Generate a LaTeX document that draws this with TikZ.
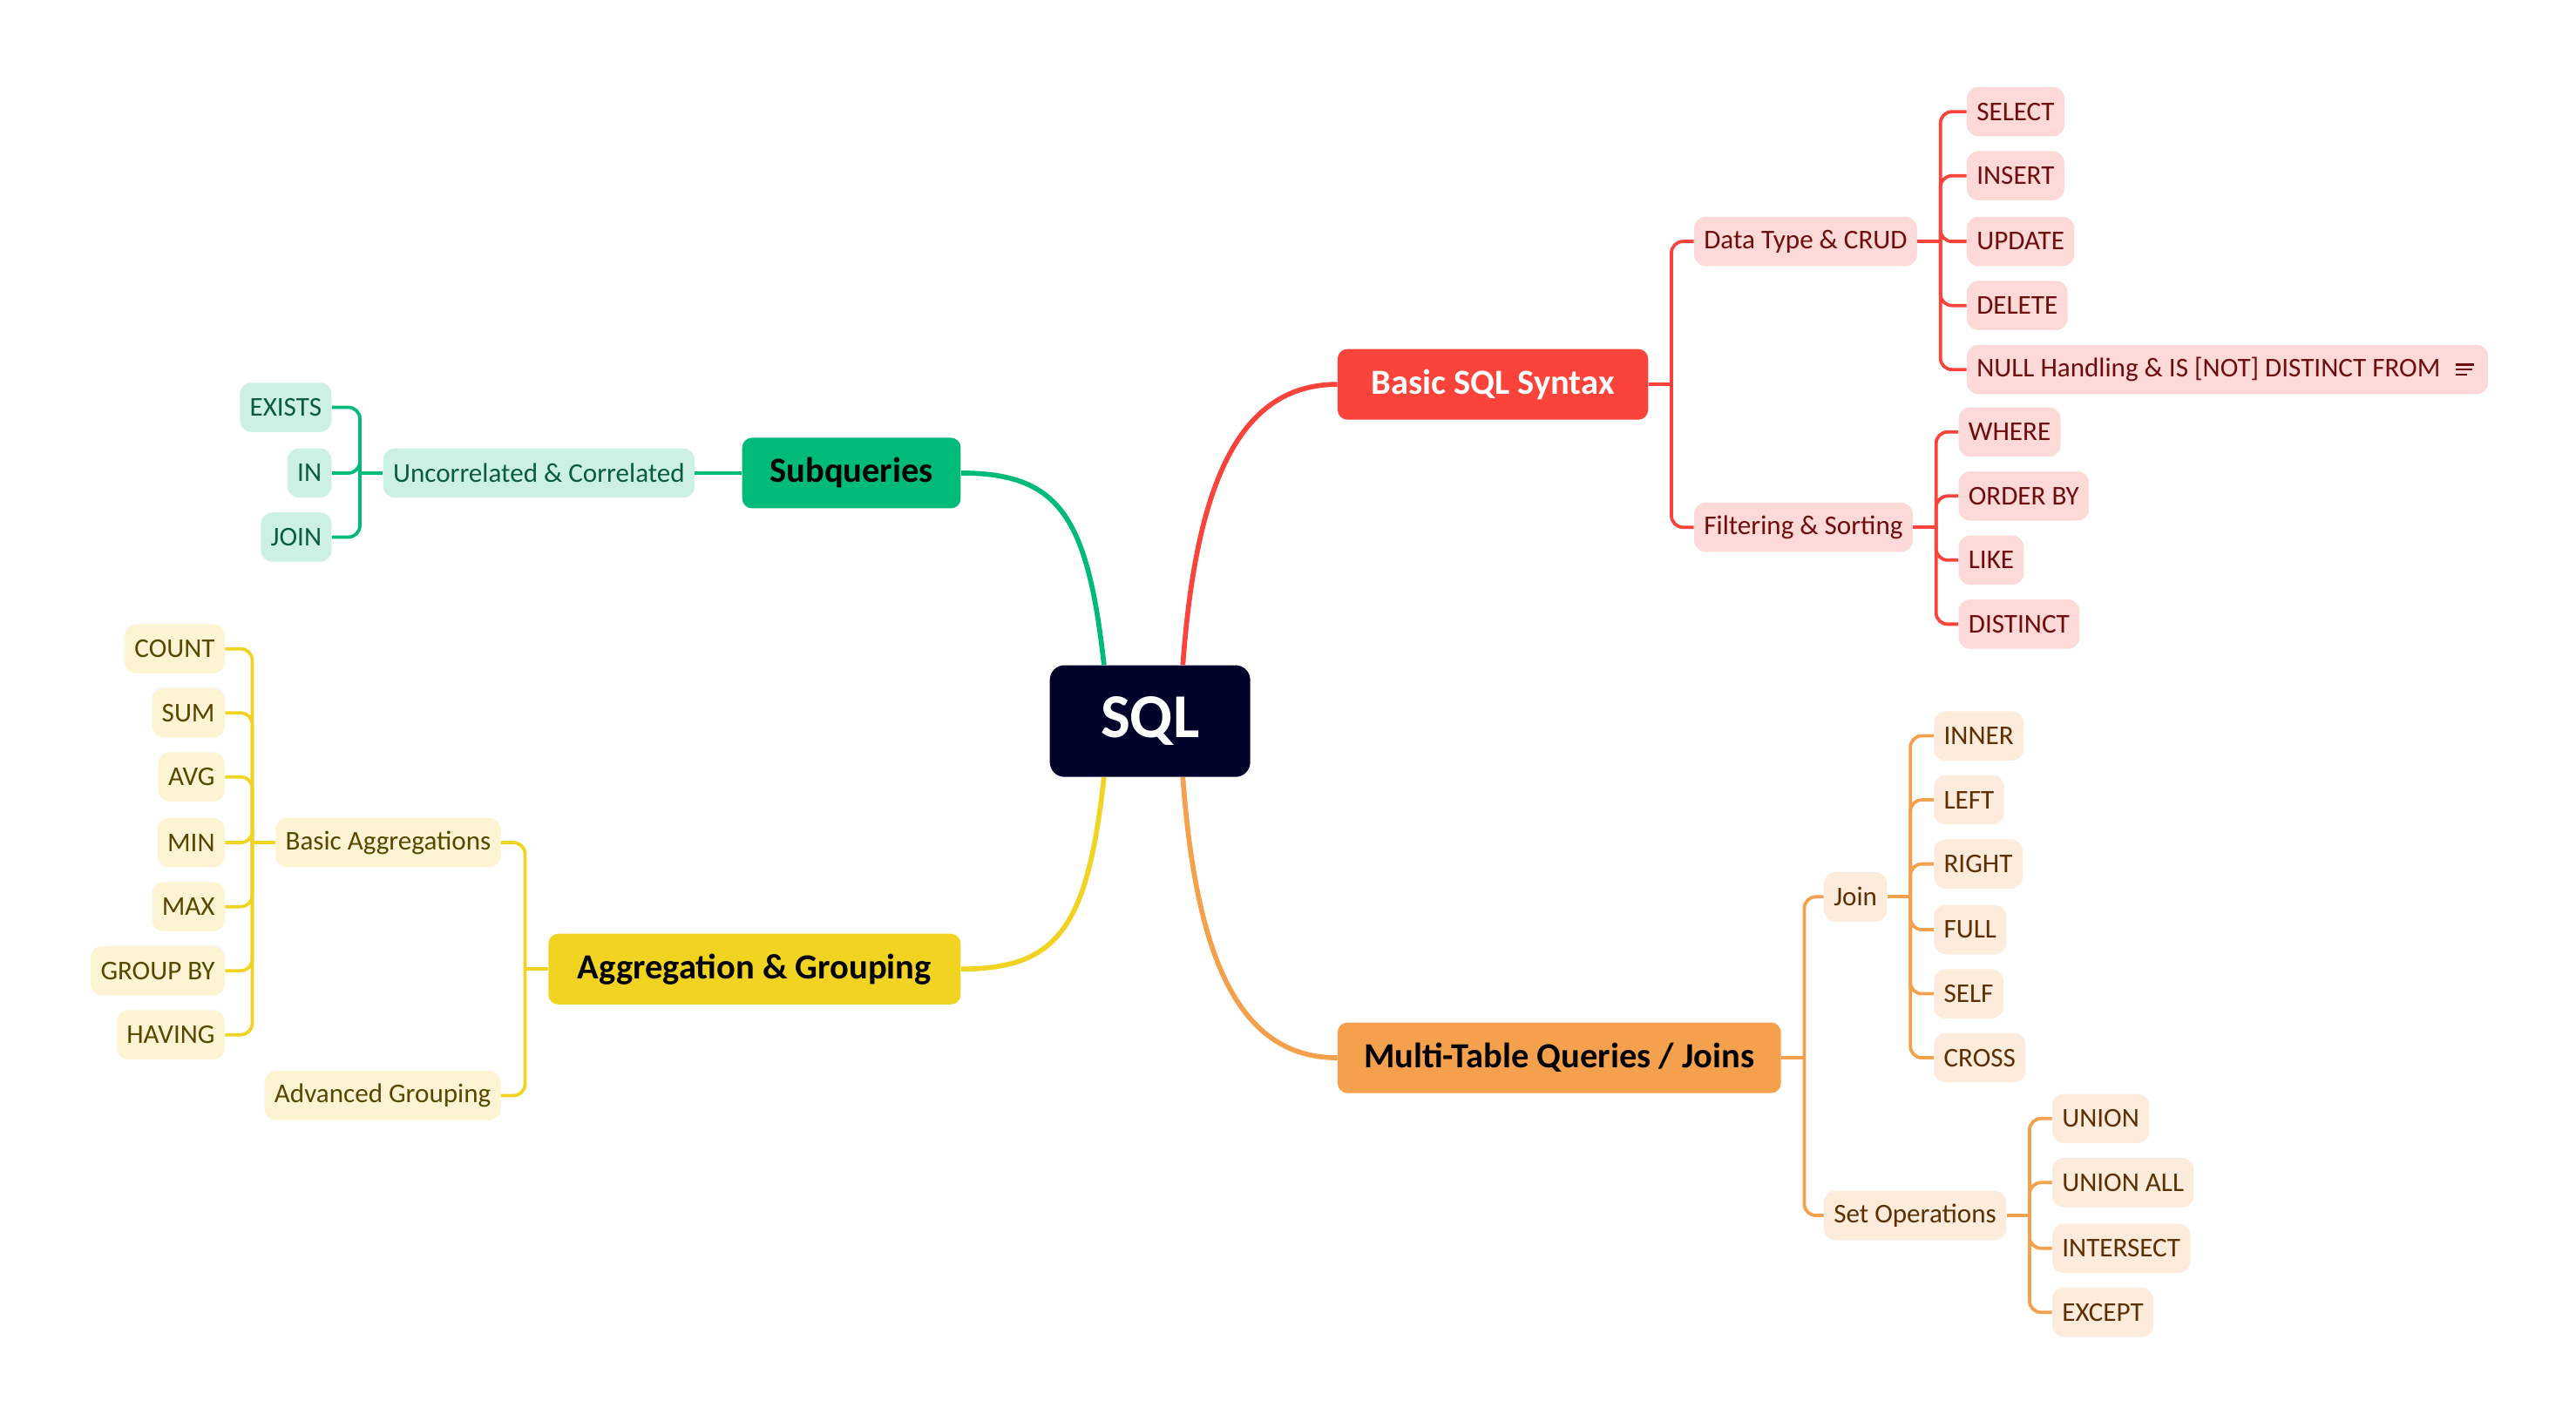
\documentclass[tikz,border=0pt]{standalone}
\usepackage{fontspec}
\setmainfont{Carlito}
\usepackage{tikz}
\usetikzlibrary{calc}
\definecolor{sqlnavy}{HTML}{010229}
\definecolor{synred}{HTML}{F9433B}
\definecolor{synredlt}{HTML}{FDD9D8}
\definecolor{synredtx}{HTML}{6E0D0D}
\definecolor{subgreen}{HTML}{00BA78}
\definecolor{subgreenlt}{HTML}{CCF1E4}
\definecolor{subgreentx}{HTML}{0A5C3C}
\definecolor{agyellow}{HTML}{F1D422}
\definecolor{agyellowlt}{HTML}{FCF4D3}
\definecolor{agyellowtx}{HTML}{574700}
\definecolor{joinorange}{HTML}{F5A04D}
\definecolor{joinorangelt}{HTML}{FDEBDC}
\definecolor{joinorangetx}{HTML}{5C3002}
\tikzset{
  rootnode/.style = {rectangle, rounded corners=9pt, fill=sqlnavy, text=white, font=\fontsize{38}{40}\selectfont\bfseries, minimum width=122pt, minimum height=68pt},
  topicnode/.style = {rectangle, rounded corners=6pt, font=\fontsize{21.5}{24}\selectfont\bfseries, minimum height=43pt, inner xsep=16pt},
  leafnode/.style = {rectangle, rounded corners=7pt, font=\fontsize{16.5}{18}\selectfont, minimum height=30pt, inner xsep=6pt},
  syn_t/.style = {topicnode, fill=synred, text=white},
  syn_l/.style = {leafnode, fill=synredlt, text=synredtx},
  syn_e/.style = {draw=synred, line width=2pt, rounded corners=7pt},
  sub_t/.style = {topicnode, fill=subgreen, text=black},
  sub_l/.style = {leafnode, fill=subgreenlt, text=subgreentx},
  sub_e/.style = {draw=subgreen, line width=2pt, rounded corners=7pt},
  agg_t/.style = {topicnode, fill=agyellow, text=black},
  agg_l/.style = {leafnode, fill=agyellowlt, text=agyellowtx},
  agg_e/.style = {draw=agyellow, line width=2pt, rounded corners=7pt},
  mtq_t/.style = {topicnode, fill=joinorange, text=black},
  mtq_l/.style = {leafnode, fill=joinorangelt, text=joinorangetx},
  mtq_e/.style = {draw=joinorange, line width=2pt, rounded corners=7pt},
  branch/.style = {line width=3pt}
}
\begin{document}
\begin{tikzpicture}[x=1pt, y=-1pt]
    \fill[white] (0,0) rectangle (1568,869);
    \useasboundingbox (0,0) rectangle (1568,869);

    \node[rootnode] (sql) at (700,439) {SQL};

    % basic syntax
    \node[syn_t, anchor=west, minimum width=189pt] (bss) at (814,234) {Basic SQL Syntax};
    \node[syn_l, anchor=west] (dtc) at (1031,147) {Data Type \& CRUD};
    \node[syn_l, anchor=west] (fil) at (1031,321) {Filtering \& Sorting};
    \node[syn_l, anchor=west] (sel) at (1197,68) {SELECT};
    \node[syn_l, anchor=west] (ins) at (1197,107) {INSERT};
    \node[syn_l, anchor=west] (upd) at (1197,147) {UPDATE};
    \node[syn_l, anchor=west] (del) at (1197,186) {DELETE};
    \node[syn_l, anchor=west] (nul) at (1197,225) {NULL Handling \& IS [NOT] DISTINCT FROM\kern23pt};
    \node[syn_l, anchor=west] (whr) at (1192,263) {WHERE};
    \node[syn_l, anchor=west] (ord) at (1192,302) {ORDER BY};
    \node[syn_l, anchor=west] (lik) at (1192,341) {LIKE};
    \node[syn_l, anchor=west] (dst) at (1192,380) {DISTINCT};

    % joins
    \node[mtq_t, anchor=west, minimum width=268pt] (mtq) at (814,644) {Multi-Table Queries / Joins};
    \node[mtq_l, anchor=west] (joi) at (1110,546) {Join};
    \node[mtq_l, anchor=west] (set) at (1110,740) {Set Operations};
    \node[mtq_l, anchor=west] (inn) at (1177,448) {INNER};
    \node[mtq_l, anchor=west] (lft) at (1177,487) {LEFT};
    \node[mtq_l, anchor=west] (rgt) at (1177,526) {RIGHT};
    \node[mtq_l, anchor=west] (ful) at (1177,566) {FULL};
    \node[mtq_l, anchor=west] (slf) at (1177,605) {SELF};
    \node[mtq_l, anchor=west] (crs) at (1177,644) {CROSS};
    \node[mtq_l, anchor=west] (uni) at (1249,681) {UNION};
    \node[mtq_l, anchor=west] (ual) at (1249,720) {UNION ALL};
    \node[mtq_l, anchor=west] (itx) at (1249,760) {INTERSECT};
    \node[mtq_l, anchor=west] (exc) at (1249,799) {EXCEPT};

    % subqueries
    \node[sub_t, anchor=east, minimum width=133pt] (sub) at (585,288) {Subqueries};
    \node[sub_l, anchor=east] (unc) at (423,288) {Uncorrelated \& Correlated};
    \node[sub_l, anchor=east] (exi) at (202,248) {EXISTS};
    \node[sub_l, anchor=east] (inq) at (202,288) {IN};
    \node[sub_l, anchor=east] (jnq) at (202,327) {JOIN};

    % aggregation
    \node[agg_t, anchor=east, minimum width=251pt] (agg) at (585,590) {Aggregation \& Grouping};
    \node[agg_l, anchor=east] (bag) at (305,513) {Basic Aggregations};
    \node[agg_l, anchor=east] (adv) at (305,667) {Advanced Grouping};
    \node[agg_l, anchor=east] (cnt) at (137,395) {COUNT};
    \node[agg_l, anchor=east] (sum) at (137,434) {SUM};
    \node[agg_l, anchor=east] (avg) at (137,473) {AVG};
    \node[agg_l, anchor=east] (mnn) at (137,513) {MIN};
    \node[agg_l, anchor=east] (mxx) at (137,552) {MAX};
    \node[agg_l, anchor=east] (grp) at (137,591) {GROUP BY};
    \node[agg_l, anchor=east] (hav) at (137,630) {HAVING};

    % note icon
    \draw[synredtx, line width=1.3pt] ($(nul.east)+(-20,-3)$) -- +(11,0);
    \draw[synredtx, line width=1.3pt] ($(nul.east)+(-20,0)$) -- +(10,0);
    \draw[synredtx, line width=1.3pt] ($(nul.east)+(-20,3)$) -- +(7,0);

    % branches from the root
    \coordinate (sqlNR) at ($(sql.north)+(20,0)$);
    \coordinate (sqlNL) at ($(sql.north)+(-28,0)$);
    \coordinate (sqlSR) at ($(sql.south)+(20,0)$);
    \coordinate (sqlSL) at ($(sql.south)+(-28,0)$);
    \draw[branch, synred] (sqlNR) .. controls +(8,-110) and +(-60,0) .. (bss.west);
    \draw[branch, subgreen] (sqlNL) .. controls +(-10,-90) and +(60,0) .. (sub.east);
    \draw[branch, agyellow] (sqlSL) .. controls +(-10,90) and +(60,0) .. (agg.east);
    \draw[branch, joinorange] (sqlSR) .. controls +(8,110) and +(-60,0) .. (mtq.west);

    % elbows
    \coordinate (bssT) at ($(bss.east)+(14,0)$);
    \coordinate (dtcT) at ($(dtc.east)+(14,0)$);
    \coordinate (filT) at ($(fil.east)+(14,0)$);
    \draw[syn_e] (bss.east) -- (bssT);
    \draw[syn_e] (dtc.east) -- (dtcT);
    \draw[syn_e] (fil.east) -- (filT);
    \foreach \c in {dtc,fil} \draw[syn_e] (bssT) |- (\c.west);
    \foreach \c in {sel,ins,upd,del,nul} \draw[syn_e] (dtcT) |- (\c.west);
    \foreach \c in {whr,ord,lik,dst} \draw[syn_e] (filT) |- (\c.west);

    \coordinate (mtqT) at ($(mtq.east)+(14,0)$);
    \coordinate (joiT) at ($(joi.east)+(14,0)$);
    \coordinate (setT) at ($(set.east)+(14,0)$);
    \draw[mtq_e] (mtq.east) -- (mtqT);
    \draw[mtq_e] (joi.east) -- (joiT);
    \draw[mtq_e] (set.east) -- (setT);
    \foreach \c in {joi,set} \draw[mtq_e] (mtqT) |- (\c.west);
    \foreach \c in {inn,lft,rgt,ful,slf,crs} \draw[mtq_e] (joiT) |- (\c.west);
    \foreach \c in {uni,ual,itx,exc} \draw[mtq_e] (setT) |- (\c.west);

    \coordinate (uncT) at ($(unc.west)+(-14,0)$);
    \draw[sub_e] (sub.west) -- (unc.east);
    \draw[sub_e] (unc.west) -- (uncT);
    \foreach \c in {exi,inq,jnq} \draw[sub_e] (uncT) |- (\c.east);

    \coordinate (aggT) at ($(agg.west)+(-14,0)$);
    \coordinate (bagT) at ($(bag.west)+(-14,0)$);
    \draw[agg_e] (agg.west) -- (aggT);
    \draw[agg_e] (bag.west) -- (bagT);
    \foreach \c in {bag,adv} \draw[agg_e] (aggT) |- (\c.east);
    \foreach \c in {cnt,sum,avg,mnn,mxx,grp,hav} \draw[agg_e] (bagT) |- (\c.east);
\end{tikzpicture}
\end{document}
